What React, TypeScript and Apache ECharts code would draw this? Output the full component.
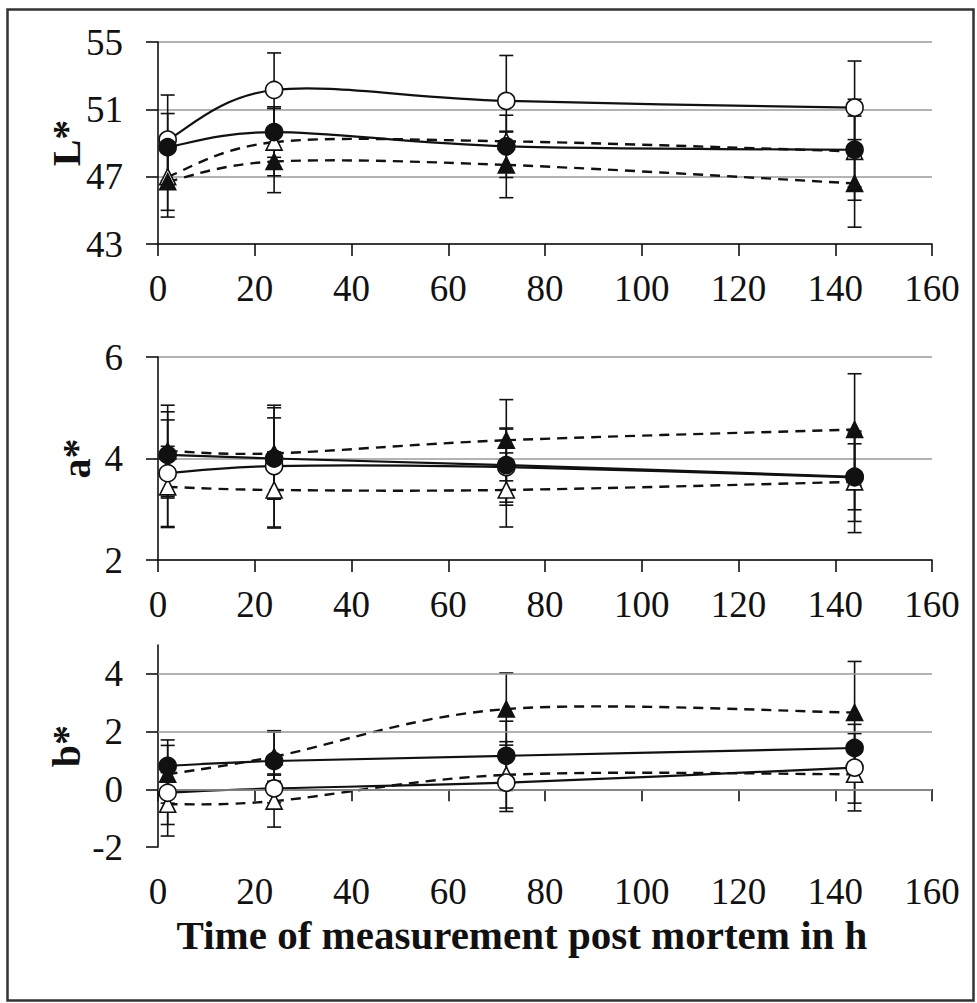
import React, { useEffect, useRef } from "react";
import * as echarts from "echarts";

// ---- data ----
const hours = [2, 24, 72, 144];

// L*
const lOpenCircle = [49.2, 52.15, 51.5, 51.1];
const lOpenCircleErr = [2.65, 2.2, 2.7, 2.77];
const lFilledCircle = [48.75, 49.65, 48.8, 48.6];
const lFilledCircleErr = [2.0, 1.5, 1.85, 3.0];
const lOpenTriangle = [47.0, 49.05, 49.1, 48.5];
const lOpenTriangleErr = [2.0, 2.0, 0.6, 2.1];
const lFilledTriangle = [46.7, 47.9, 47.7, 46.6];
const lFilledTriangleErr = [2.1, 1.85, 1.95, 2.6];

// a*
const aOpenCircle = [3.71, 3.85, 3.83, 3.63];
const aOpenCircleErr = [1.05, 1.2, 0.75, 0.87];
const aFilledCircle = [4.07, 4.0, 3.87, 3.64];
const aFilledCircleErr = [0.85, 0.8, 0.73, 0.65];
const aOpenTriangle = [3.44, 3.38, 3.38, 3.54];
const aOpenTriangleErr = [0.8, 0.75, 0.73, 1.0];
const aFilledTriangle = [4.15, 4.1, 4.36, 4.57];
const aFilledTriangleErr = [0.9, 0.9, 0.8, 1.1];

// b*
const bOpenCircle = [-0.12, 0.03, 0.23, 0.75];
const bOpenCircleErr = [1.1, 0.5, 1.0, 1.5];
const bFilledCircle = [0.81, 0.98, 1.16, 1.43];
const bFilledCircleErr = [0.9, 1.05, 1.2, 0.5];
const bOpenTriangle = [-0.52, -0.41, 0.5, 0.52];
const bOpenTriangleErr = [1.1, 0.9, 1.15, 1.0];
const bFilledTriangle = [0.52, 1.13, 2.78, 2.66];
const bFilledTriangleErr = [1.0, 0.85, 1.25, 1.77];

// axes
const xMin = 0, xMax = 160, xInterval = 20;
const lAxis = { min: 43, max: 55, interval: 4, name: "L*" };
const aAxis = { min: 2, max: 6, interval: 2, name: "a*" };
const bAxis = { min: -2, max: 5, interval: 2, name: "b*" };
const bTicks = [-2, 0, 2, 4];
const bGridValues = [0, 2, 4];
const xTitle = "Time of measurement post mortem in h";

const FONT = "'Liberation Serif', 'Times New Roman', serif";
const INK = "#111";
const GRID_GRAY = "#9a9a9a";

type Panel = {
  oc: number[]; ocE: number[]; fc: number[]; fcE: number[];
  ot: number[]; otE: number[]; ft: number[]; ftE: number[];
};

const panels: Panel[] = [
  { oc: lOpenCircle, ocE: lOpenCircleErr, fc: lFilledCircle, fcE: lFilledCircleErr, ot: lOpenTriangle, otE: lOpenTriangleErr, ft: lFilledTriangle, ftE: lFilledTriangleErr },
  { oc: aOpenCircle, ocE: aOpenCircleErr, fc: aFilledCircle, fcE: aFilledCircleErr, ot: aOpenTriangle, otE: aOpenTriangleErr, ft: aFilledTriangle, ftE: aFilledTriangleErr },
  { oc: bOpenCircle, ocE: bOpenCircleErr, fc: bFilledCircle, fcE: bFilledCircleErr, ot: bOpenTriangle, otE: bOpenTriangleErr, ft: bFilledTriangle, ftE: bFilledTriangleErr },
];

function errSeries(idx: number, vals: number[], errs: number[]) {
  return {
    type: "custom",
    xAxisIndex: idx,
    yAxisIndex: idx,
    z: 2,
    silent: true,
    encode: { x: 0, y: [1, 2] },
    data: hours.map((h, i) => [h, vals[i] - errs[i], vals[i] + errs[i]]),
    renderItem: (_p: any, api: any) => {
      const x = api.value(0);
      const lo = api.coord([x, api.value(1)]);
      const hi = api.coord([x, api.value(2)]);
      const cap = 7;
      const style = { stroke: INK, lineWidth: 1.6 };
      return {
        type: "group",
        children: [
          { type: "line", shape: { x1: lo[0], y1: lo[1], x2: hi[0], y2: hi[1] }, style },
          { type: "line", shape: { x1: lo[0] - cap, y1: lo[1], x2: lo[0] + cap, y2: lo[1] }, style },
          { type: "line", shape: { x1: hi[0] - cap, y1: hi[1], x2: hi[0] + cap, y2: hi[1] }, style },
        ],
      };
    },
  };
}

// Excel-like smoothed line (Catmull-Rom Bezier), one segment per data item
function smoothLineSeries(idx: number, vals: number[], dashed: boolean) {
  const n = hours.length;
  return {
    type: "custom",
    xAxisIndex: idx,
    yAxisIndex: idx,
    z: 3,
    silent: true,
    encode: { x: 0, y: 1 },
    data: hours.map((h, i) => [h, vals[i]]),
    renderItem: (params: any, api: any) => {
      const i = params.dataIndex;
      if (i >= n - 1) return { type: "group", children: [] };
      const pt = (k: number) => {
        const kk = Math.max(0, Math.min(n - 1, k));
        return api.coord([hours[kk], vals[kk]]);
      };
      const p0 = pt(i - 1), p1 = pt(i), p2 = pt(i + 1), p3 = pt(i + 2);
      const t = 1 / 6;
      return {
        type: "bezierCurve",
        shape: {
          x1: p1[0], y1: p1[1],
          x2: p2[0], y2: p2[1],
          cpx1: p1[0] + (p2[0] - p0[0]) * t,
          cpy1: p1[1] + (p2[1] - p0[1]) * t,
          cpx2: p2[0] - (p3[0] - p1[0]) * t,
          cpy2: p2[1] - (p3[1] - p1[1]) * t,
        },
        style: {
          fill: "none",
          stroke: INK,
          lineWidth: dashed ? 2.4 : 2.2,
          lineDash: dashed ? [10, 7] : null,
        },
      };
    },
  };
}

function markerSeries(idx: number, vals: number[], symbol: string, filled: boolean, z: number) {
  return {
    type: "scatter",
    xAxisIndex: idx,
    yAxisIndex: idx,
    z,
    symbol,
    symbolSize: symbol === "circle" ? 17 : 16,
    data: hours.map((h, i) => [h, vals[i]]),
    itemStyle: { color: filled ? INK : "#fff", borderColor: INK, borderWidth: 1.6, opacity: 1 },
    emphasis: { disabled: true },
    silent: true,
  };
}

const gridTops = [42, 357, 645];
const gridHeights = [202, 203, 202];
const yAxes = [lAxis, aAxis, bAxis];
const nameGaps = [72, 62, 72];

export default function App() {
  const ref = useRef<HTMLDivElement>(null);
  useEffect(() => {
    if (!ref.current) return;
    const chart = echarts.init(ref.current, undefined, { renderer: "svg" });

    const series: any[] = [];
    panels.forEach((p, idx) => {
      series.push(errSeries(idx, p.ot, p.otE));
      series.push(errSeries(idx, p.ft, p.ftE));
      series.push(errSeries(idx, p.oc, p.ocE));
      series.push(errSeries(idx, p.fc, p.fcE));
      series.push(smoothLineSeries(idx, p.ot, true));
      series.push(smoothLineSeries(idx, p.ft, true));
      series.push(smoothLineSeries(idx, p.oc, false));
      series.push(smoothLineSeries(idx, p.fc, false));
      series.push(markerSeries(idx, p.ot, "triangle", false, 4));
      series.push(markerSeries(idx, p.ft, "triangle", true, 5));
      series.push(markerSeries(idx, p.oc, "circle", false, 6));
      series.push(markerSeries(idx, p.fc, "circle", true, 7));
    });
    // gridlines for b* panel (no line at the axis max)
    series.push({
      type: "line",
      xAxisIndex: 2,
      yAxisIndex: 2,
      data: [],
      z: 1,
      silent: true,
      markLine: {
        silent: true,
        symbol: "none",
        label: { show: false },
        lineStyle: { color: GRID_GRAY, width: 1.6, type: "solid" },
        data: bGridValues.map((v) => ({ yAxis: v })),
      },
    });

    const axisLine = { show: true, lineStyle: { color: INK, width: 1.6 } };
    const axisTick = { show: true, inside: false, length: 12, lineStyle: { color: INK, width: 1.6 } };

    chart.setOption({
      animation: false,
      backgroundColor: "#fff",
      grid: gridTops.map((t, i) => ({
        left: 158,
        right: 45,
        top: t,
        height: gridHeights[i],
        containLabel: false,
        outerBoundsMode: "none",
      })),
      xAxis: [0, 1, 2].map((i) => ({
        type: "value",
        gridIndex: i,
        min: xMin,
        max: xMax,
        interval: xInterval,
        axisLine,
        axisTick,
        splitLine: { show: false },
        axisLabel: { fontFamily: FONT, fontSize: 37, color: INK, margin: 26 },
        name: i === 2 ? xTitle : "",
        nameLocation: "middle",
        nameGap: 67,
        nameMoveOverlap: false,
        nameTextStyle: {
          fontFamily: FONT,
          fontSize: 41,
          fontWeight: "bold",
          color: INK,
          padding: [0, 46, 0, 0],
        },
      })),
      yAxis: yAxes.map((ax, i) => ({
        type: "value",
        gridIndex: i,
        min: ax.min,
        max: ax.max,
        interval: ax.interval,
        axisLine,
        axisTick: i === 2 ? { ...axisTick, customValues: bTicks } : axisTick,
        splitLine: { show: i !== 2, lineStyle: { color: GRID_GRAY, width: 1.6 } },
        axisLabel: {
          fontFamily: FONT,
          fontSize: 37,
          color: INK,
          margin: 35,
          ...(i === 2 ? { customValues: bTicks } : {}),
        },
        name: ax.name,
        nameLocation: "middle",
        nameRotate: 90,
        nameGap: nameGaps[i],
        nameMoveOverlap: false,
        nameTextStyle: { fontFamily: FONT, fontSize: 40, fontWeight: "bold", color: INK },
      })),
      graphic: [
        {
          type: "rect",
          left: 5,
          top: 7,
          shape: { width: 966, height: 991 },
          style: { fill: "none", stroke: "#333", lineWidth: 2.5 },
          silent: true,
        },
      ],
      series,
    });
    return () => chart.dispose();
  }, []);
  return (
    <div
      ref={ref}
      style={{ position: "absolute", left: 0, top: 0, width: 977, height: 1003 }}
    />
  );
}
